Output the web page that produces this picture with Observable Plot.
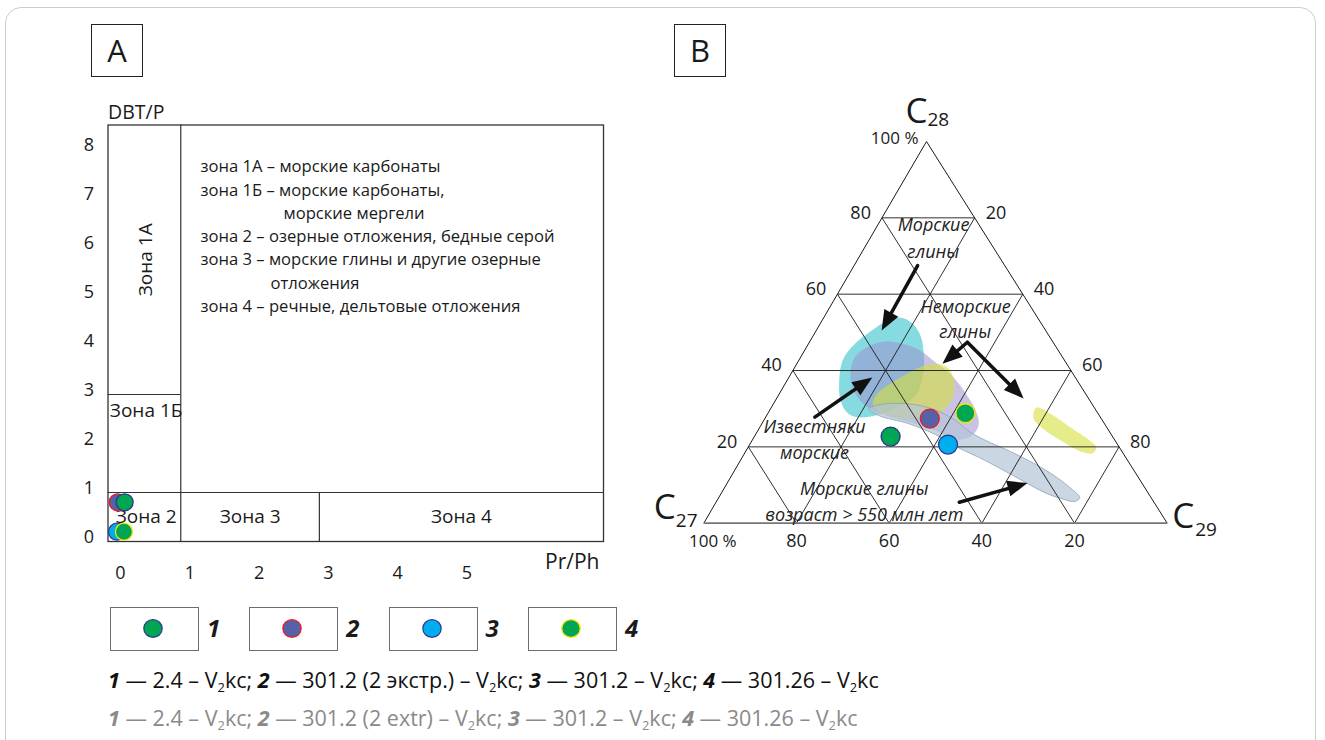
<!DOCTYPE html>
<html><head><meta charset="utf-8">
<script src="https://cdn.jsdelivr.net/npm/d3@7"></script>
<script src="https://cdn.jsdelivr.net/npm/@observablehq/plot@0.6"></script>
<style>
html,body{margin:0;padding:0;background:#fff;}
#page{position:relative;width:1325px;height:740px;overflow:hidden;font-family:"Open Sans","Noto Sans",sans-serif;color:#1a1a1a;}
#border{position:absolute;left:5px;top:7px;width:1311px;height:780px;border:1.5px solid #cccccc;border-radius:16px;box-sizing:border-box;}
.panelLabel{position:absolute;width:52px;height:53px;border:1px solid #222;box-sizing:border-box;font-size:31px;line-height:50px;text-align:center;color:#1a1a1a;}
#plotA{position:absolute;left:0;top:0;}
#plotB{position:absolute;left:640px;top:0;}
.lgBox{position:absolute;top:607px;width:89px;height:44px;border:1.5px solid #6e6e6e;box-sizing:border-box;background:#fff;}
.lgBox svg{position:absolute;left:0;top:0;}
.lgNum{position:absolute;top:612px;font-size:24px;font-weight:700;font-style:italic;color:#1a1a1a;line-height:32px;}
.cap{position:absolute;left:108px;font-size:21.5px;line-height:26px;white-space:nowrap;}
.cap sub{font-size:0.6em;vertical-align:-0.3em;line-height:0;}
</style>
</head>
<body>
<div id="page">
  <div id="border"></div>
  <div class="panelLabel" style="left:91px;top:24px;">A</div>
  <div class="panelLabel" style="left:674px;top:24px;">B</div>
  <div id="plotA"></div>
  <div id="plotB"></div>
  <div id="legend"></div>
  <div id="cap1" class="cap" style="top:667px;color:#111;"></div>
  <div id="cap2" class="cap" style="top:705px;color:#8a8a8a;"></div>
</div>
<script>
const FONT = '"Open Sans", "Noto Sans", sans-serif';

// ================= DATA =================
// Panel A: DBT/P vs Pr/Ph (Hughes diagram)
const prPhTicks = [0, 1, 2, 3, 4, 5];
const dbtTicks = [0, 1, 2, 3, 4, 5, 6, 7, 8];
const zoneNames = ["Зона 1А", "Зона 1Б", "Зона 2", "Зона 3", "Зона 4"];
const zonePrPh = [[0, 1], [0, 1], [0, 1], [1, 3], [3, 7.1]];
const zoneDbtP = [[3, 8.5], [1, 3], [0, 1], [0, 1], [0, 1]];
const zoneNotes = [
  "зона 1А – морские карбонаты",
  "зона 1Б – морские карбонаты,",
  "морские мергели",
  "зона 2 – озерные отложения, бедные серой",
  "зона 3 – морские глины и другие озерные",
  "отложения",
  "зона 4 – речные, дельтовые отложения"
];
const zoneNoteContinued = [false, false, true, false, false, true, false];

// Samples
const sampleIds = [1, 2, 3, 4];
const sampleNamesRu = ["2.4", "301.2 (2 экстр.)", "301.2", "301.26"];
const sampleNamesEn = ["2.4", "301.2 (2 extr)", "301.2", "301.26"];
const samplePrPh = [0.19, 0.09, 0.08, 0.18];
const sampleDbtP = [0.8, 0.8, 0.2, 0.2];
// Panel B: sterane composition, % (C27 = 100 − C28 − C29)
const sampleC28 = [22.7, 27.4, 20.6, 28.8];
const sampleC29 = [29.4, 35.6, 42.8, 42.6];

// Ternary grid / tick values, %
const ternTicks = [20, 40, 60, 80];

// Fields on the ternary diagram, points as [C28 %, C29 %]
const fieldMarineClays = [[53.9,16.5],[52.3,19.9],[49.2,23.1],[45.2,25.7],[40.0,28.2],[33.5,29.6],[29.5,26.1],[27.7,20.9],[28.7,17.4],[32.1,14.1],[38.7,10.7],[43.1,9.4],[46.6,9.9],[50.2,11.8],[52.8,13.8]];
const fieldLimestones = [[47.6,16.3],[46.8,21.0],[45.2,25.0],[42.1,29.8],[39.0,34.5],[34.2,40.0],[29.5,44.5],[25.6,47.0],[22.7,46.6],[21.9,43.8],[24.3,38.3],[26.4,31.9],[28.2,25.7],[30.8,20.1],[34.8,15.6],[39.5,12.7],[43.7,11.7],[46.3,13.3]];
const fieldNonMarine1 = [[41.8,29.9],[40.8,33.0],[37.9,35.7],[33.5,37.8],[30.0,37.7],[28.0,35.5],[27.4,30.4],[28.7,24.8],[31.1,21.5],[34.0,21.1],[36.6,22.7],[39.2,25.1],[41.1,27.4]];
const fieldOldClays = [[30.0,21.1],[31.1,23.2],[31.4,27.4],[30.8,32.0],[29.3,36.6],[26.9,41.4],[23.8,46.1],[21.1,51.7],[18.8,57.1],[13.8,67.3],[8.8,75.3],[6.7,77.9],[5.7,77.3],[6.5,73.9],[7.8,70.2],[12.0,61.7],[16.4,52.9],[19.8,45.4],[23.2,38.9],[26.1,31.6],[28.2,24.2]];
const fieldNonMarine2 = [[30.3,57.2],[28.7,61.0],[25.1,67.1],[21.9,72.5],[19.8,75.2],[18.3,75.1],[18.8,72.3],[21.7,66.5],[24.8,61.2],[27.4,58.0]];

// Annotation arrows, [C28 %, C29 %]
const arrowFrom = [[67.5,13.7],[47.4,34.1],[47.4,34.1],[27.8,10.6],[5.5,52.5]];
const arrowTo   = [[50.5,14.1],[41.8,31.4],[32.7,53.3],[38.2,18.0],[10.5,64.8]];

// Field names, anchored at [C28 %, C29 %]
const noteTexts = ["Морские", "глины", "Неморские", "глины", "Известняки", "морские", "Морские глины", "возраст > 550 млн лет"];
const notePos = [[78.0,12.1],[71.0,15.4],[56.6,29.3],[50.0,32.4],[25.2,11.8],[18.3,15.1],[8.8,30.4],[2.0,33.7]];

// ================= STYLES =================
const sampleStyle = {
  1: {fill: "#00a651", stroke: "#2b3990"},
  2: {fill: "#5561a8", stroke: "#ec1c24"},
  3: {fill: "#00aeef", stroke: "#2b3990"},
  4: {fill: "#00a651", stroke: "#f2e600"}
};
const drawOrderA = [2, 3, 1, 4];
const INK = "#1a1a1a";

// ================= PANEL A =================
const xDomA = [-0.05, 7.1];
const marksA = [
  Plot.axisX(prPhTicks, {tickSize: 0, tickPadding: 25, dx: 9, fontSize: 18, label: null}),
  Plot.axisY(dbtTicks, {tickSize: 0, tickPadding: 14, dy: -4, fontSize: 18, label: null}),
  Plot.ruleX([zonePrPh[0][1]], {y1: 0, y2: 8.5, stroke: "#333", strokeWidth: 1.2}),
  Plot.ruleX([zonePrPh[3][1]], {y1: 0, y2: zoneDbtP[3][1], stroke: "#333", strokeWidth: 1.2}),
  Plot.ruleY([zoneDbtP[2][1]], {stroke: "#333", strokeWidth: 1.2}),
  Plot.ruleY([zoneDbtP[1][1]], {x1: xDomA[0], x2: zonePrPh[1][1], stroke: "#333", strokeWidth: 1.2}),
  Plot.frame({stroke: "#333", strokeWidth: 1.3}),
  Plot.text([0], {x: i => d3.mean(zonePrPh[i]), y: i => d3.mean(zoneDbtP[i]), text: i => zoneNames[i], rotate: -90, fontSize: 19, fill: INK}),
  Plot.text([1], {x: i => d3.mean(zonePrPh[i]), y: i => zoneDbtP[i][1], text: i => zoneNames[i], lineAnchor: "top", dy: 9, fontSize: 19, fill: INK}),
  Plot.text([2, 3, 4], {x: i => d3.mean(zonePrPh[i]), y: i => d3.mean(zoneDbtP[i]), text: i => zoneNames[i], fontSize: 19, fill: INK}),
  ...zoneNotes.map((t, i) => Plot.text([t], {
    frameAnchor: "top-left", text: d => d, textAnchor: "start",
    dx: zoneNoteContinued[i] ? (i === 2 ? 175.5 : 162.5) : 92.5,
    dy: 35.5 + 23.3 * i, fontSize: 16.6, fill: INK
  })),
  Plot.text(["DBT/P"], {frameAnchor: "top-left", text: d => d, textAnchor: "start", dx: 0, dy: -20, fontSize: 19.5, fill: INK}),
  Plot.text(["Pr/Ph"], {frameAnchor: "bottom-right", text: d => d, textAnchor: "end", dx: -4, dy: 27, fontSize: 21, fill: INK}),
  ...drawOrderA.map(id => {
    const i = sampleIds.indexOf(id);
    return Plot.dot([i], {x: j => samplePrPh[j], y: j => sampleDbtP[j], r: 8.5,
      fill: sampleStyle[id].fill, stroke: sampleStyle[id].stroke, strokeWidth: 1.3});
  })
];
const plotA = Plot.plot({
  width: 640, height: 600,
  marginLeft: 107.5, marginRight: 37, marginTop: 124.5, marginBottom: 59,
  x: {domain: xDomA}, y: {domain: [0, 8.5]},
  style: {fontFamily: FONT, fontSize: "18px", color: INK, background: "transparent", overflow: "visible"},
  marks: marksA
});
document.getElementById("plotA").append(plotA);

// ================= PANEL B (ternary) =================
const K = 0.4806;              // horizontal offset of the apex in the drawn triangle
const PXW = 463.4, PXH = 381.7; // pixel size of the triangle (x range, y range)
const tern = (c28, c29) => ({x: (c29 + K * c28) / 100, y: c28 / 100});

const gridSegs = [];
for (const v of ternTicks) {
  gridSegs.push([tern(v, 0), tern(v, 100 - v)]);          // C28 = v
  gridSegs.push([tern(100 - v, v), tern(0, v)]);          // C29 = v
  gridSegs.push([tern(100 - v, 0), tern(0, 100 - v)]);    // C27 = v
}
const sideSegs = [[tern(100, 0), tern(0, 0)], [tern(100, 0), tern(0, 100)]];
const baseSeg = [[tern(0, 0), tern(0, 100)]];

const seg = (segs, opts) => Plot.link(segs, {x1: d => d[0].x, y1: d => d[0].y, x2: d => d[1].x, y2: d => d[1].y, ...opts});
const field = (pts, opts) => Plot.line(pts.map(p => tern(p[0], p[1])), {x: "x", y: "y", curve: "catmull-rom-closed", ...opts});

const arrowHead = {
  draw(ctx) { ctx.moveTo(0, 0); ctx.lineTo(-8, 20); ctx.lineTo(8, 20); ctx.closePath(); }
};
const arrowIdx = d3.range(arrowFrom.length);
const headRot = i => {
  const p1 = tern(...arrowFrom[i]), p2 = tern(...arrowTo[i]);
  const dx = (p2.x - p1.x) * PXW, dy = -(p2.y - p1.y) * PXH;
  return Math.atan2(dx, -dy) * 180 / Math.PI;
};

const marksB = [
  field(fieldMarineClays, {fill: "#5ccfd6", fillOpacity: 0.75, stroke: "none"}),
  field(fieldLimestones, {fill: "#9f8fd0", fillOpacity: 0.55, stroke: "none"}),
  field(fieldNonMarine1, {fill: "#d4df3a", fillOpacity: 0.6, stroke: "none"}),
  field(fieldOldClays, {fill: "#b3c4d6", fillOpacity: 0.7, stroke: "#8ea2b6", strokeWidth: 0.8}),
  field(fieldNonMarine2, {fill: "#d4df3a", fillOpacity: 0.6, stroke: "none"}),
  seg(gridSegs, {stroke: INK, strokeWidth: 0.9}),
  seg(sideSegs, {stroke: INK, strokeWidth: 1}),
  seg(baseSeg, {stroke: "#777", strokeWidth: 1.8}),
  // axis tick labels
  Plot.text(ternTicks, {x: v => tern(v, 0).x, y: v => tern(v, 0).y, text: v => String(v), textAnchor: "end", dx: -11, dy: -5, fontSize: 18, fill: INK}),
  Plot.text(ternTicks, {x: v => tern(100 - v, v).x, y: v => tern(100 - v, v).y, text: v => String(v), textAnchor: "start", dx: 11, dy: -5, fontSize: 18, fill: INK}),
  Plot.text(ternTicks, {x: v => tern(0, 100 - v).x, y: v => tern(0, 100 - v).y, text: v => String(v), dy: 18, fontSize: 18, fill: INK}),
  Plot.text(["100 %"], {x: () => tern(100, 0).x, y: () => tern(100, 0).y, text: d => d, textAnchor: "end", dx: -8, dy: -3, fontSize: 17, fill: INK}),
  Plot.text(["100 %"], {x: () => tern(0, 0).x, y: () => tern(0, 0).y, text: d => d, dx: 9, dy: 18, fontSize: 17, fill: INK}),
  // vertex names
  Plot.text(["C"], {x: () => tern(100, 0).x, y: () => tern(100, 0).y, text: d => d, textAnchor: "end", lineAnchor: "bottom", dx: 1, dy: -19, fontSize: 35, fill: INK}),
  Plot.text(["28"], {x: () => tern(100, 0).x, y: () => tern(100, 0).y, text: d => d, textAnchor: "start", lineAnchor: "bottom", dx: 1, dy: -16, fontSize: 19, fill: INK}),
  Plot.text(["C"], {x: () => tern(0, 0).x, y: () => tern(0, 0).y, text: d => d, textAnchor: "end", lineAnchor: "bottom", dx: -28, dy: -4, fontSize: 35, fill: INK}),
  Plot.text(["27"], {x: () => tern(0, 0).x, y: () => tern(0, 0).y, text: d => d, textAnchor: "start", lineAnchor: "bottom", dx: -28, dy: 4, fontSize: 19, fill: INK}),
  Plot.text(["C"], {x: () => tern(0, 100).x, y: () => tern(0, 100).y, text: d => d, textAnchor: "start", lineAnchor: "bottom", dx: 5, dy: 5, fontSize: 35, fill: INK}),
  Plot.text(["29"], {x: () => tern(0, 100).x, y: () => tern(0, 100).y, text: d => d, textAnchor: "start", lineAnchor: "bottom", dx: 28, dy: 13, fontSize: 19, fill: INK}),
  // field names
  Plot.text(d3.range(noteTexts.length), {x: i => tern(...notePos[i]).x, y: i => tern(...notePos[i]).y, text: i => noteTexts[i], fontStyle: "italic", fontSize: 18, fill: "#222"}),
  // arrows
  Plot.arrow(arrowIdx, {x1: i => tern(...arrowFrom[i]).x, y1: i => tern(...arrowFrom[i]).y, x2: i => tern(...arrowTo[i]).x, y2: i => tern(...arrowTo[i]).y, headLength: 0, insetEnd: 12, stroke: "#111", strokeWidth: 3.5}),
  Plot.dot(arrowIdx, {x: i => tern(...arrowTo[i]).x, y: i => tern(...arrowTo[i]).y, symbol: arrowHead, rotate: headRot, fill: "#111", stroke: "none"}),
  // samples
  ...sampleIds.map((id, i) => Plot.dot([i], {x: j => tern(sampleC28[j], sampleC29[j]).x, y: j => tern(sampleC28[j], sampleC29[j]).y, r: 9.5,
    fill: sampleStyle[id].fill, stroke: sampleStyle[id].stroke, strokeWidth: 1.3}))
];
const plotB = Plot.plot({
  width: 640, height: 600,
  marginLeft: 63.3, marginRight: 113.3, marginTop: 141, marginBottom: 77.3,
  x: {domain: [0, 1], axis: null}, y: {domain: [0, 1], axis: null},
  style: {fontFamily: FONT, fontSize: "18px", color: INK, background: "transparent", overflow: "visible"},
  marks: marksB
});
document.getElementById("plotB").append(plotB);

// ================= LEGEND =================
const legend = d3.select("#legend");
sampleIds.forEach((id, i) => {
  const left = 110 + 139.3 * i;
  const box = legend.append("div").attr("class", "lgBox").style("left", left + "px");
  const svg = box.append("svg").attr("width", 89).attr("height", 44);
  svg.append("ellipse").attr("cx", 42).attr("cy", 20.5).attr("rx", 9.2).attr("ry", 8.8)
    .attr("fill", sampleStyle[id].fill).attr("stroke", sampleStyle[id].stroke).attr("stroke-width", 1.2);
  legend.append("div").attr("class", "lgNum").style("left", (left + 97) + "px").text(id);
});

// ================= CAPTIONS =================
const capHtml = names => sampleIds.map((id, i) => `<b><i>${id}</i></b> — ${names[i]} – V<sub>2</sub>kc`).join("; ");
document.getElementById("cap1").innerHTML = capHtml(sampleNamesRu);
document.getElementById("cap2").innerHTML = capHtml(sampleNamesEn);
</script>
</body></html>
